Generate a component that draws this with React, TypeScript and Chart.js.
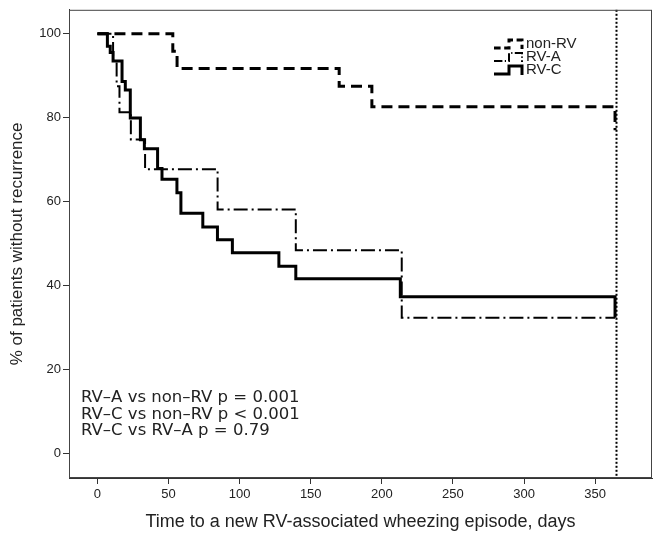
import React, { useEffect, useRef } from "react";
import { Chart, registerables } from "chart.js";

Chart.register(...registerables);

// ---- data ----
const xTicks = [0, 50, 100, 150, 200, 250, 300, 350];
const yTicks = [0, 20, 40, 60, 80, 100];

const nonRvDays = [0, 53, 56, 170, 193, 364];
const nonRvPct = [100, 95.8, 91.7, 87.5, 82.6, 77];

const rvADays = [0, 11, 13.5, 15.5, 23.5, 33.5, 84.5, 139.5, 214, 364];
const rvAPct = [100, 93.5, 87.5, 81.3, 74.8, 67.7, 58.1, 48.4, 32.3, 32.3];

const rvCDays = [0, 7, 9, 11, 17.3, 19.6, 23.1, 30.2, 33, 42.3, 45.4, 55.9, 58.7, 74.1, 84.4, 94.9, 127.6, 139.5, 213, 364];
const rvCPct = [100, 97, 95.5, 93.5, 88.6, 86.6, 79.9, 74.7, 72.6, 67.9, 65.3, 62.1, 57.2, 53.9, 50.9, 47.8, 44.6, 41.6, 37.3, 32.3];

const seriesLabels = ["non-RV", "RV-A", "RV-C"];
const pValueLines = [
  "RV\u2013A vs non\u2013RV p = 0.001",
  "RV\u2013C vs non\u2013RV p < 0.001",
  "RV\u2013C vs RV\u2013A p = 0.79",
];
const followUpDay = 365;
const xTitle = "Time to a new RV-associated wheezing episode, days";
const yTitle = "% of patients without recurrence";

// ---- styles ----
const seriesStyles = [
  { dash: [11, 6], width: 3 },
  { dash: [14, 4, 2, 4], width: 2 },
  { dash: [], width: 3 },
];

const toPoints = (xs: number[], ys: number[]) => xs.map((x, i) => ({ x, y: ys[i] }));

const overlayPlugin = {
  id: "overlay",
  afterDatasetsDraw(chart: any) {
    const { ctx, chartArea: a, scales } = chart;
    const xs = scales.x;
    ctx.save();
    // follow-up dotted line
    const px = Math.round(xs.getPixelForValue(followUpDay)) + 0.5;
    ctx.setLineDash([2, 2]);
    ctx.lineWidth = 2;
    ctx.strokeStyle = "#000";
    ctx.beginPath();
    ctx.moveTo(px, a.top);
    ctx.lineTo(px, a.bottom);
    ctx.stroke();
    // frame
    ctx.setLineDash([]);
    ctx.lineWidth = 1;
    ctx.strokeStyle = "#444";
    ctx.strokeRect(a.left + 0.5, a.top + 0.5, a.right - a.left - 1, a.bottom - a.top - 1);

    // legend
    const lx = 494;
    const ly0 = 44;
    const lstep = 13;
    ctx.font = '15px "Liberation Sans", Arial, sans-serif';
    ctx.fillStyle = "#222";
    ctx.textBaseline = "middle";
    ctx.textAlign = "left";
    seriesLabels.forEach((lab, i) => {
      const cy = ly0 + i * lstep;
      const st = seriesStyles[i];
      ctx.strokeStyle = "#000";
      ctx.lineWidth = st.width;
      ctx.setLineDash(st.dash.map((d: number) => d * 0.6));
      ctx.beginPath();
      ctx.moveTo(lx, cy + 4);
      ctx.lineTo(lx + 15, cy + 4);
      ctx.lineTo(lx + 15, cy - 4);
      ctx.lineTo(lx + 28, cy - 4);
      ctx.lineTo(lx + 28, cy + 5);
      ctx.stroke();
      ctx.setLineDash([]);
      ctx.fillText(lab, lx + 32, cy);
    });

    // p-value annotations
    ctx.font = '16.5px "DejaVu Sans", sans-serif';
    ctx.fillStyle = "#222";
    pValueLines.forEach((t, i) => {
      ctx.fillText(t, 81, 398 + i * 16.5);
    });
    ctx.restore();
  },
};

export default function App() {
  const ref = useRef<HTMLCanvasElement | null>(null);

  useEffect(() => {
    if (!ref.current) return;
    const tickFont = { family: '"Liberation Sans", Arial, sans-serif', size: 13 };
    const titleFont = { family: '"Liberation Sans", Arial, sans-serif', size: 18 };
    const mk = (xs: number[], ys: number[], i: number) => ({
      label: seriesLabels[i],
      data: toPoints(xs, ys),
      borderColor: "#000",
      backgroundColor: "#000",
      borderWidth: seriesStyles[i].width,
      borderDash: seriesStyles[i].dash,
      borderCapStyle: "butt",
      borderJoinStyle: "miter",
      stepped: "before",
      pointRadius: 0,
      fill: false,
    });
    const chart = new Chart(ref.current, {
      type: "line",
      data: {
        datasets: [
          mk(nonRvDays, nonRvPct, 0),
          mk(rvADays, rvAPct, 1),
          mk(rvCDays, rvCPct, 2),
        ] as any,
      },
      options: {
        animation: false,
        responsive: false,
        devicePixelRatio: 1,
        layout: { padding: { top: 8, right: 2, left: 0, bottom: 0 } },
        plugins: { legend: { display: false }, tooltip: { enabled: false } },
        scales: {
          x: {
            type: "linear",
            min: -20,
            max: 390,
            afterBuildTicks: (s: any) => {
              s.ticks = xTicks.map((v) => ({ value: v }));
            },
            afterFit: (s: any) => {
              s.height = 63;
            },
            ticks: { font: tickFont, color: "#222", padding: 3, maxRotation: 0, autoSkip: false },
            grid: { drawOnChartArea: false, drawTicks: true, tickLength: 6, color: "#333" },
            border: { display: true, color: "#333" },
            title: { display: true, text: xTitle, font: titleFont, color: "#222", padding: { top: 4, bottom: 8 } },
          },
          y: {
            type: "linear",
            min: -5.9,
            max: 105.7,
            afterBuildTicks: (s: any) => {
              s.ticks = yTicks.map((v) => ({ value: v }));
            },
            afterFit: (s: any) => {
              s.width = 69;
            },
            ticks: { font: tickFont, color: "#222", padding: 2, autoSkip: false },
            grid: { drawOnChartArea: false, drawTicks: true, tickLength: 6, color: "#333" },
            border: { display: true, color: "#333" },
            title: { display: true, text: yTitle, font: { ...titleFont, size: 17 }, color: "#222", padding: { top: 7, bottom: 4 } },
          },
        },
      } as any,
      plugins: [overlayPlugin],
    });
    return () => chart.destroy();
  }, []);

  return (
    <div style={{ position: "fixed", left: 0, top: 0, width: 654, height: 541, background: "#fff" }}>
      <canvas ref={ref} width={654} height={541} style={{ width: 654, height: 541, display: "block" }} />
    </div>
  );
}
